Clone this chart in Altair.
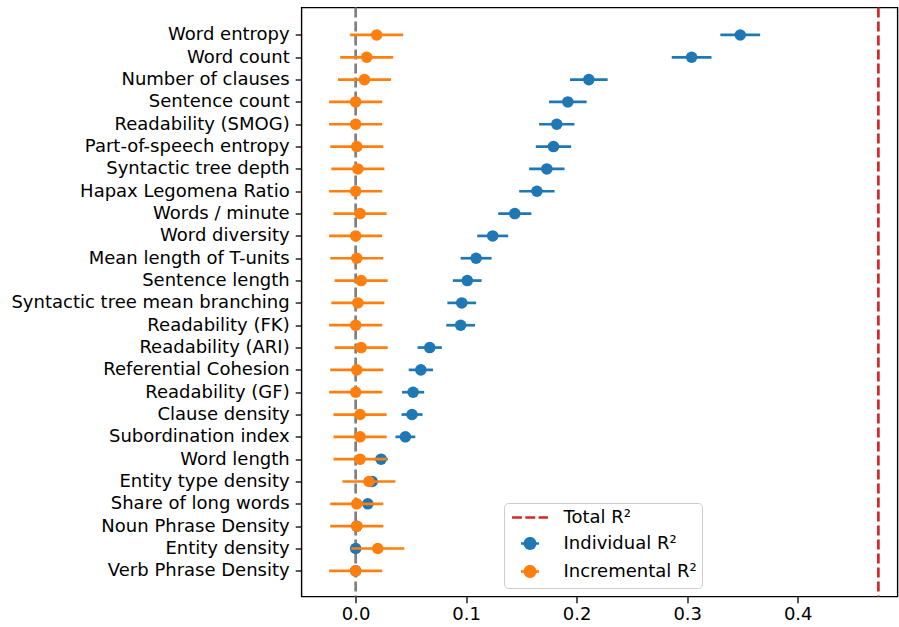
import json

import altair as alt
import pandas as pd

# Predictors, top to bottom
features = [
    "Word entropy", "Word count", "Number of clauses", "Sentence count",
    "Readability (SMOG)", "Part-of-speech entropy", "Syntactic tree depth",
    "Hapax Legomena Ratio", "Words / minute", "Word diversity",
    "Mean length of T-units", "Sentence length", "Syntactic tree mean branching",
    "Readability (FK)", "Readability (ARI)", "Referential Cohesion",
    "Readability (GF)", "Clause density", "Subordination index", "Word length",
    "Entity type density", "Share of long words", "Noun Phrase Density",
    "Entity density", "Verb Phrase Density",
]

# R² of each predictor on its own, with its uncertainty
individual = [0.348, 0.304, 0.211, 0.192, 0.182, 0.179, 0.173, 0.164, 0.144,
              0.124, 0.109, 0.101, 0.096, 0.095, 0.067, 0.059, 0.052, 0.051,
              0.045, 0.023, 0.015, 0.011, 0.001, 0.000, 0.000]
individual_err = [0.018, 0.018, 0.017, 0.017, 0.016, 0.016, 0.016, 0.016, 0.015,
                  0.014, 0.014, 0.013, 0.013, 0.013, 0.011, 0.011, 0.010, 0.0095,
                  0.009, 0.006, 0.005, 0.004, 0.004, 0.004, 0.003]

# R² added by each predictor on top of all others
incremental = [0.019, 0.010, 0.008, 0.000, 0.000, 0.001, 0.002, 0.000, 0.004,
               0.000, 0.001, 0.005, 0.002, 0.000, 0.005, 0.001, 0.000, 0.004,
               0.004, 0.004, 0.012, 0.001, 0.001, 0.020, 0.000]
incremental_err = [0.024, 0.024, 0.024, 0.024, 0.024, 0.024, 0.024, 0.024, 0.024,
                   0.024, 0.024, 0.024, 0.024, 0.024, 0.024, 0.024, 0.024, 0.024,
                   0.024, 0.024, 0.024, 0.024, 0.024, 0.024, 0.024]

total_r2 = 0.473

series_names = ["Total R²", "Individual R²", "Incremental R²"]
series_colors = ["#d62728", "#1f77b4", "#ff7f0e"]

# Legend glyphs (unit = 8 px): a dashed line for the total; a bar with a dot
# (concentric stroked rings, so the dot reads as solid) for the others.
def ring(r):
    return f"M{r},0A{r},{r},0,1,1,{-r},0A{r},{r},0,1,1,{r},0"

dot_glyph = "M-1.125,0H1.125" + "".join(ring(r) for r in (0.64, 0.4, 0.15))
series_glyphs = ["M-2.25,0H2.25", dot_glyph, dot_glyph]
series_dashes = [[10, 3.3], [1, 0], [1, 0]]

rows = []
for name, vals, errs in [("Individual R²", individual, individual_err),
                         ("Incremental R²", incremental, incremental_err)]:
    for i, (v, e) in enumerate(zip(vals, errs)):
        rows.append({"idx": i, "series": name, "value": v,
                     "lo": v - e, "hi": v + e})
df = pd.DataFrame(rows)
total_df = pd.DataFrame({"series": ["Total R²"], "value": [total_r2]})
zero_df = pd.DataFrame({"value": [0.0]})
key_df = pd.DataFrame({"series": series_names})

FONT = "DejaVu Sans"

x_scale = alt.Scale(domain=[-0.049, 0.4903], nice=False, zero=False)
y_scale = alt.Scale(domain=[-1.23, len(features) - 1 + 1.15], nice=False,
                    zero=False, reverse=True)
color_scale = alt.Scale(domain=series_names, range=series_colors)

legend = alt.Legend(
    title=None, orient="none", legendX=202.5, legendY=495.5,
    labelFont=FONT, labelFontSize=18, labelColor="black",
    fillColor="rgba(255,255,255,0.8)", strokeColor="#cccccc", cornerRadius=4,
    padding=5, rowPadding=5, symbolSize=256, symbolStrokeWidth=2.7,
    symbolOpacity=1, symbolOffset=11.5, labelOffset=24,
)

x_axis = alt.Axis(values=[0.0, 0.1, 0.2, 0.3, 0.4], format=".1f", title=None,
                  grid=False, domain=False, labelFont=FONT, labelFontSize=18,
                  labelColor="black", tickColor="black", tickSize=6.3,
                  tickWidth=1.3, labelPadding=3)
y_axis = alt.Axis(values=list(range(len(features))),
                  labelExpr=f"{json.dumps(features)}[datum.value]",
                  title=None, grid=False, domain=False, labelFont=FONT,
                  labelFontSize=18, labelColor="black", tickColor="black",
                  tickSize=6.3, tickWidth=1.3, labelPadding=6, labelLimit=0)

zero_line = alt.Chart(zero_df).mark_rule(
    color="gray", strokeWidth=2.7, strokeDash=[10, 4]
).encode(x=alt.X("value:Q", scale=x_scale, axis=x_axis))

total_line = alt.Chart(total_df).mark_rule(
    color=series_colors[0], strokeWidth=2.7, strokeDash=[10, 4]
).encode(x=alt.X("value:Q", scale=x_scale, axis=x_axis))


def bars(name, color):
    return alt.Chart(df).transform_filter(
        alt.datum.series == name
    ).mark_rule(color=color, strokeWidth=2.7).encode(
        x=alt.X("lo:Q", scale=x_scale, axis=x_axis),
        x2="hi:Q",
        y=alt.Y("idx:Q", scale=y_scale, axis=y_axis),
    )


def dots(name, color):
    return alt.Chart(df).transform_filter(
        alt.datum.series == name
    ).mark_circle(color=color, size=133, opacity=1).encode(
        x=alt.X("value:Q", scale=x_scale, axis=x_axis),
        y=alt.Y("idx:Q", scale=y_scale, axis=y_axis),
    )


# Key layer: zero-sized points that only carry the legend
key = alt.Chart(key_df).mark_point(
    filled=False, opacity=1, strokeWidth=2.7, size=0
).encode(
    color=alt.Color("series:N", scale=color_scale, legend=legend),
    shape=alt.Shape("series:N", scale=alt.Scale(domain=series_names, range=series_glyphs),
                    legend=legend),
    strokeDash=alt.StrokeDash("series:N",
                              scale=alt.Scale(domain=series_names, range=series_dashes),
                              legend=legend),
)

chart = alt.layer(
    zero_line, total_line,
    bars("Individual R²", series_colors[1]), dots("Individual R²", series_colors[1]),
    bars("Incremental R²", series_colors[2]), dots("Incremental R²", series_colors[2]),
    key,
).properties(
    width=596, height=589,
    padding={"left": 301.5, "top": 7.5, "right": 1.5, "bottom": 30.5},
    autosize=alt.AutoSizeParams(type="none"),
).configure(
    font=FONT, background="white"
).configure_view(
    stroke="black", strokeWidth=1.4
)

chart.save("out.html", embed_options={"renderer": "svg", "actions": False})
